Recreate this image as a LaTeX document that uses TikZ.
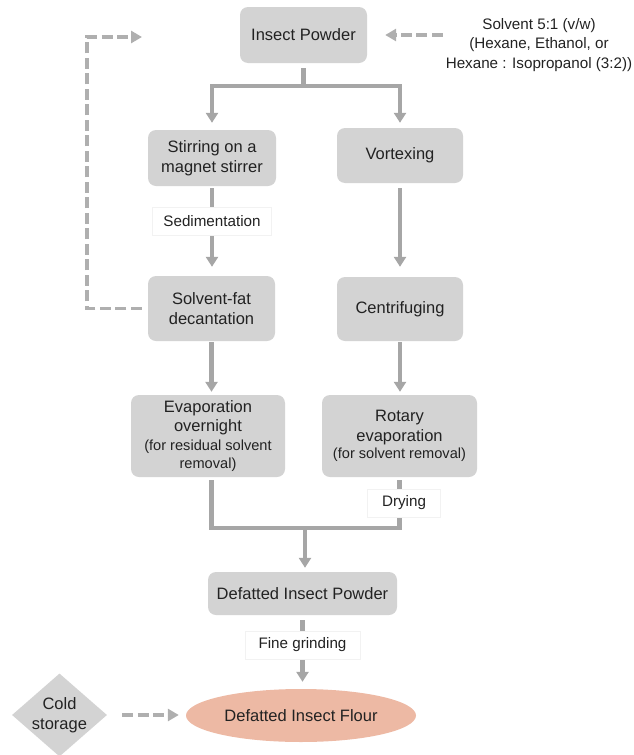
\documentclass[tikz,border=0pt]{standalone}
\usepackage{fontspec}
\setmainfont{Liberation Sans}
\usetikzlibrary{arrows.meta,shapes.geometric,calc}
\definecolor{boxgray}{RGB}{211,211,211}
\definecolor{linegray}{RGB}{166,166,166}
\definecolor{dashgray}{RGB}{175,175,175}
\definecolor{salmon}{RGB}{237,185,164}
\definecolor{txt}{RGB}{34,34,34}
\newcommand{\fmain}{\fontsize{16.5}{19.5}\selectfont}
\newcommand{\fsmall}{\fontsize{14.6}{17.5}\selectfont}
\newcommand{\flbl}{\fontsize{15.2}{19.3}\selectfont}
\begin{document}
\begin{tikzpicture}[x=1pt,y=1pt,
  box/.style={rectangle,rounded corners=8pt,fill=boxgray,text=txt,align=center,inner sep=0pt,font=\fmain},
  lbl/.style={rectangle,fill=white,draw=black!5,line width=0.5pt,text=txt,font=\flbl,inner sep=0pt,minimum height=28pt},
  flow/.style={draw=linegray,line width=4.5pt},
  flowarrow/.style={flow,-{Triangle[length=10pt,width=12pt]}},
  dasharrow/.style={draw=dashgray,line width=3.5pt,dash pattern=on 11pt off 4.5pt,-{Triangle[length=11pt,width=12pt]}}
]
\useasboundingbox (0,0) rectangle (634,-755);

% process boxes
\node[box,minimum width=127pt,minimum height=56pt] (ip) at (303.5,-35) {Insect Powder};
\node[box,minimum width=128pt,minimum height=56pt] (stir) at (212,-158) {Stirring on a\\magnet stirrer};
\node[box,minimum width=126pt,minimum height=55pt] (vort) at (400,-155.5) {Vortexing};
\node[box,minimum width=127pt,minimum height=65pt] (sfat) at (211.5,-308.5) {Solvent-fat\\decantation};
\node[box,minimum width=126pt,minimum height=64pt] (cent) at (400,-309) {Centrifuging};
\node[box,minimum width=154pt,minimum height=82pt] (evap) at (208,-436)
  {Evaporation\\overnight\\[-0.5pt]{\fsmall (for residual solvent}\\[-2pt]{\fsmall removal)}};
\node[box,minimum width=155pt,minimum height=82pt] (rot) at (399.5,-436)
  {Rotary\\evaporation\\[-2pt]{\fsmall (for solvent removal)}};
\node[box,minimum width=189pt,minimum height=43pt] (dip) at (302.5,-593.5) {Defatted Insect Powder};
\node[ellipse,fill=salmon,text=txt,font=\fmain,inner sep=0pt,minimum width=230pt,minimum height=53pt] (flour) at (301,-715.5) {Defatted Insect Flour};
\node[diamond,fill=boxgray,text=txt,font=\fmain,align=center,inner sep=-4pt,minimum width=95pt,minimum height=83pt] (cold) at (59.5,-715) {Cold\\storage};
\node[text=txt,font=\flbl,align=center,inner sep=0pt] (solv) at (539,-45)
  {Solvent 5:1 (v/w)\\(Hexane, Ethanol, or\\Hexane : Isopropanol (3:2))};

% split from Insect Powder
\coordinate (sp) at ([yshift=-23pt]ip.south);
\draw[flow] ([yshift=-5pt]ip.south) -- (sp);
\draw[flowarrow] (sp) -| ([yshift=7pt]stir.north);
\draw[flowarrow] (sp) -| ([yshift=5pt]vort.north);

% left column
\draw[flowarrow] ([yshift=-2pt]stir.south) -- node[lbl,pos=0.42,minimum width=119pt] (sed) {Sedimentation} ([yshift=9pt]stir.south |- sfat.north);
\draw[flowarrow] ([yshift=-1pt]sfat.south) -- ([yshift=3pt]sfat.south |- evap.north);

% right column
\draw[flowarrow] ([yshift=-5pt]vort.south) -- ([yshift=10pt]vort.south |- cent.north);
\draw[flowarrow] ([yshift=-1pt]cent.south) -- ([yshift=3pt]cent.south |- rot.north);

% merge
\coordinate (mg) at (305,-528);
\draw[flow] ([yshift=-3pt]evap.south -| sfat.south) |- (mg) -| ([yshift=-3pt]rot.south);
\node[lbl,minimum width=73pt] (dry) at (404,-503) {Drying};
\draw[flowarrow] (mg) -- ([yshift=4pt]mg |- dip.north);

% grinding
\draw[flowarrow] ([yshift=-5pt]dip.south) -- node[lbl,pos=0.4,minimum width=115pt] (fg) {Fine grinding} ([yshift=7pt]dip.south |- flour.north);

% dashed connectors
\draw[dasharrow] ([xshift=-3pt]solv.west |- ip.east) -- ([xshift=18pt]ip.east);
\coordinate (rc) at (87,-37);
\coordinate (rt) at (142,-37);
\draw[dasharrow] ([xshift=-6pt]sfat.west) -| (rc) -- (rt);
\draw[dasharrow] ([xshift=15pt]cold.east) -- ([xshift=-7pt]flour.west |- cold.east);
\end{tikzpicture}
\end{document}
